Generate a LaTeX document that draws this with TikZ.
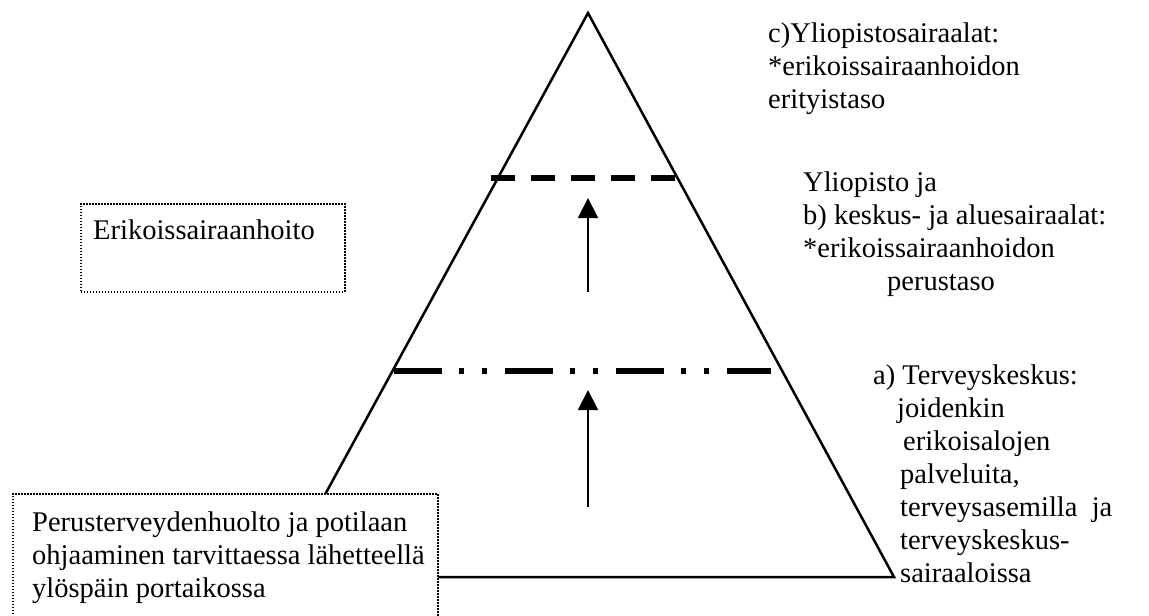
\documentclass[tikz,border=0pt]{standalone}
\usepackage{fontspec}
\setmainfont{Liberation Serif}
\usetikzlibrary{arrows.meta}
\begin{document}
\begin{tikzpicture}[x=1pt,y=-1pt,
  txt/.style={anchor=base west, inner sep=0pt, font=\fontsize{28.5}{33}\selectfont},
  dotbox/.style={draw, line width=1.5pt, dash pattern=on 1.5pt off 1.5pt, fill=white,
    anchor=north west, inner sep=0pt},
  level/.style={line width=6pt},
  uparrow/.style={line width=2pt, -{Triangle[width=20pt,length=20pt]}},
]
\useasboundingbox (0,0) rectangle (1149,616);
\clip (0,0) rectangle (1149,616);

% the care pyramid
\coordinate (apex) at (588,13);
\coordinate (bl) at (280,577);
\coordinate (br) at (894,577);
\draw[line width=2.5pt, line join=miter] (apex) -- (br) -- (bl) -- cycle;

% level boundaries
\coordinate (upL) at (491,178);
\coordinate (upR) at (677,178);
\coordinate (loL) at (394,371);
\coordinate (loR) at (771,371);
\draw[level, dash pattern=on 24pt off 16pt] (upL) -- (upR);
\draw[level, dash pattern=on 48pt off 17pt on 5pt off 18pt on 5pt off 18pt] (loL) -- (loR);

% referral arrows
\coordinate (a1s) at (588,292);
\coordinate (a1e) at (588,198);
\coordinate (a2s) at (588,507);
\coordinate (a2e) at (588,390);
\draw[uparrow] (a1s) -- (a1e);
\draw[uparrow] (a2s) -- (a2e);

% dotted boxes
\node[dotbox, minimum width=264pt, minimum height=88pt] (specbox) at (80,203) {};
\node[txt] (spec) at (93,239) {Erikoissairaanhoito};

\node[dotbox, minimum width=425pt, minimum height=150pt] (primbox) at (12,493) {};
\node[txt] (prim1) at (32,531) {Perusterveydenhuolto ja potilaan};
\node[txt] (prim2) at (32,564) {ohjaaminen tarvittaessa lähetteellä};
\node[txt] (prim3) at (32,597) {ylöspäin portaikossa};

% level c
\node[txt] (c1) at (768,42) {c)Yliopistosairaalat:};
\node[txt] (c2) at (768,75) {*erikoissairaanhoidon};
\node[txt] (c3) at (768,108) {erityistaso};

% level b
\node[txt] (b1) at (803,191) {Yliopisto ja};
\node[txt] (b2) at (803,224) {b) keskus- ja aluesairaalat:};
\node[txt] (b3) at (803,257) {*erikoissairaanhoidon};
\node[txt] (b4) at (887,290) {perustaso};

% level a
\node[txt] (a1) at (873,384) {a) Terveyskeskus:};
\node[txt] (a2) at (897,417) {joidenkin};
\node[txt] (a3) at (903,450) {erikoisalojen};
\node[txt] (a4) at (900,483) {palveluita,};
\node[txt] (a5) at (900,516) {terveysasemilla\ \ ja};
\node[txt] (a6) at (900,549) {terveyskeskus-};
\node[txt] (a7) at (900,582) {sairaaloissa};
\end{tikzpicture}
\end{document}
